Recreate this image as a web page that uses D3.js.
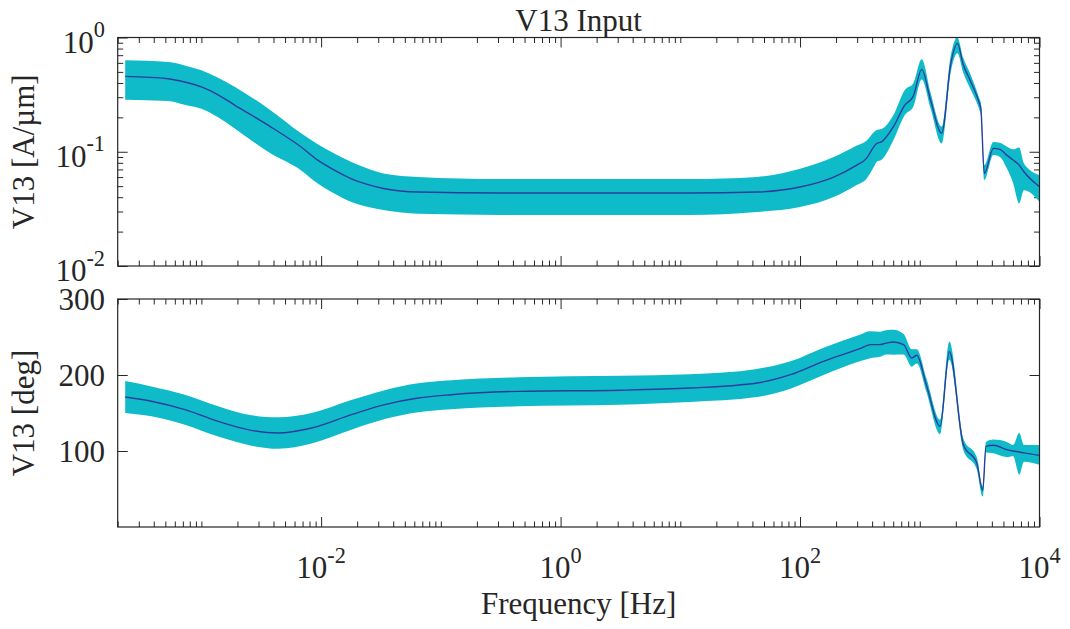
<!DOCTYPE html>
<html lang="en">
<head>
  <meta charset="UTF-8">
  <title></title>
  <style>
    body { margin: 0; background: #fff; }
    svg { display: block; }
  </style>
</head>
<body>
  <script src="https://d3js.org/d3.v7.min.js"></script>
  <script>
    const [width, height] = [1070, 629];

    // magnitude
    const magFreq = [2.31e-4, 5.27e-4, 7.24e-4, 1e-3, 1.38e-3, 1.91e-3, 3.63e-3, 6.81e-3, 9.44e-3, 1.30e-2,
      1.79e-2, 2.47e-2, 3.40e-2, 6.46e-2, 0.316, 3.16, 12.0, 43.7, 100, 191,
      295, 359, 417, 437, 479, 603, 750, 883, 1038, 1230,
      1524, 1816, 2061, 2312, 2630, 3148, 3236, 3459, 4121, 4677,
      5321, 6026, 6761, 7413, 10000];
    const magMid = [0.457, 0.436, 0.408, 0.369, 0.315, 0.255, 0.170, 0.110, 0.084, 0.0687,
      0.058, 0.0515, 0.0474, 0.0444, 0.0436, 0.0436, 0.0435, 0.0444, 0.0491, 0.060,
      0.076, 0.0875, 0.112, 0.118, 0.122, 0.166, 0.256, 0.307, 0.526, 0.284,
      0.145, 0.594, 0.889, 0.574, 0.425, 0.265, 0.24, 0.0646, 0.107, 0.105,
      0.0935, 0.0846, 0.0764, 0.0668, 0.0494];
    const magLow = [0.285, 0.278, 0.258, 0.238, 0.200, 0.159, 0.0994, 0.0687, 0.0524, 0.0429,
      0.0363, 0.0328, 0.0307, 0.0286, 0.028, 0.028, 0.028, 0.0297, 0.0328, 0.0401,
      0.0508, 0.058, 0.075, 0.0818, 0.085, 0.127, 0.21, 0.248, 0.43, 0.24,
      0.118, 0.5, 0.727, 0.49, 0.359, 0.232, 0.21, 0.0565, 0.0936, 0.09,
      0.072, 0.053, 0.0353, 0.046, 0.0365];
    const magHigh = [0.631, 0.61, 0.57, 0.516, 0.445, 0.369, 0.238, 0.145, 0.116, 0.096,
      0.0813, 0.071, 0.0642, 0.0602, 0.0578, 0.0578, 0.0578, 0.0602, 0.071, 0.0899,
      0.113, 0.125, 0.15, 0.155, 0.158, 0.21, 0.347, 0.398, 0.644, 0.33,
      0.166, 0.7, 1.0, 0.66, 0.486, 0.293, 0.27, 0.0765, 0.122, 0.12,
      0.111, 0.105, 0.109, 0.079, 0.0625];

    // phase
    const phaseFreq = [2.31e-4, 3.83e-4, 7.28e-4, 1.38e-3, 2.62e-3, 4.37e-3, 8.32e-3, 1.79e-2, 3.40e-2, 6.46e-2,
      0.122, 0.442, 3.16, 12.0, 43.7, 83.2, 157, 316, 385, 466,
      525, 603, 733, 857, 944, 1135, 1479, 1766, 2312, 2992,
      3357, 3573, 4121, 5321, 6026, 6776, 7413, 10000];
    const phaseMid = [171, 165.4, 154.4, 139, 127.2, 123.7, 130.3, 147.8, 161, 169.7,
      174.1, 178.5, 180, 182.9, 189.5, 200.4, 218, 234.6, 239.9, 240,
      242, 243.4, 240, 222.4, 225.9, 187, 132.5, 231, 108.3, 84.2,
      47.8, 106, 107.5, 101.8, 100, 98.7, 97.5, 94.3];
    const phaseLow = [150, 145.6, 134.6, 119, 107, 103, 110, 128, 142, 151,
      155, 158.8, 161, 164.5, 171, 182, 200, 218, 222, 224,
      227, 226.7, 227, 211, 215, 178, 122, 220, 101, 76,
      40, 98, 97, 92, 93, 68.8, 86, 82];
    const phaseHigh = [192, 185, 174, 159, 147, 144.3, 150, 167, 180, 189,
      193, 197, 199, 201, 208, 218, 236, 253, 257.5, 257,
      259, 259.6, 254, 234, 234, 196, 141, 244, 116, 92,
      54, 112, 115, 112, 108, 123.7, 108, 108];

    const xLabelTicks = [1e-2, 1, 1e2, 1e4];
    const magTicks = [1e-2, 1e-1, 1];
    const phaseTicks = [100, 200, 300];

    const left = 117.7, right = 1039.5;
    const top1 = 37.5, bot1 = 266;
    const top2 = 299, bot2 = 527;
    const ink = "#262626";
    const bandColor = "#10bbc9";
    const lineColor = "#2b3e9c";
    const fs = 31;

    const x = d3.scaleLog().domain([2e-4, 1e4]).range([left, right]);
    const yMag = d3.scaleLog().domain([1e-2, 1]).range([bot1, top1]);
    const yPh = d3.scaleLinear().domain([0, 300]).range([bot2, top2]);

    const isPow = (v) => Math.abs(Math.log10(v) - Math.round(Math.log10(v))) < 1e-9;
    const isLabelled = (v) => xLabelTicks.some((t) => Math.abs(Math.log10(t) - Math.log10(v)) < 1e-9);
    const xMinor = x.ticks().filter((v) => !isLabelled(v));
    const magMinor = yMag.ticks().filter((v) => !isPow(v));

    const svg = d3.select(document.body)
      .append("svg")
      .attr("width", width)
      .attr("height", height)
      .attr("viewBox", [0, 0, width, height])
      .attr("font-family", "'Liberation Serif', 'Times New Roman', serif")
      .attr("font-size", fs)
      .attr("fill", ink);

    const ticks = (axis, values, len, transform) =>
      svg.append("g")
        .attr("transform", transform)
        .attr("color", ink)
        .call(axis.tickValues(values).tickSize(-len).tickFormat(""))
        .call((g) => g.select(".domain").remove());

    function panel(y, top, bottom, yMajor, yMinor) {
      ticks(d3.axisBottom(x), xMinor, 5.5, `translate(0,${bottom})`);
      ticks(d3.axisBottom(x), xLabelTicks, 10, `translate(0,${bottom})`);
      ticks(d3.axisTop(x), xMinor, 5.5, `translate(0,${top})`);
      ticks(d3.axisTop(x), xLabelTicks, 10, `translate(0,${top})`);
      ticks(d3.axisLeft(y), yMinor, 5.5, `translate(${left},0)`);
      ticks(d3.axisLeft(y), yMajor, 10, `translate(${left},0)`);
      ticks(d3.axisRight(y), yMinor, 5.5, `translate(${right},0)`);
      ticks(d3.axisRight(y), yMajor, 10, `translate(${right},0)`);
    }

    function series(y, id, freq, mid, low, high) {
      const rows = freq.map((f, i) => ({ f, mid: mid[i], low: low[i], high: high[i] }));
      svg.append("clipPath").attr("id", id)
        .append("rect")
        .attr("x", x.range()[0]).attr("y", y.range()[1])
        .attr("width", x.range()[1] - x.range()[0])
        .attr("height", y.range()[0] - y.range()[1]);
      const g = svg.append("g").attr("clip-path", `url(#${id})`);
      g.append("path")
        .datum(rows)
        .attr("fill", bandColor)
        .attr("d", d3.area().curve(d3.curveMonotoneX)
          .x((d) => x(d.f)).y0((d) => y(d.low)).y1((d) => y(d.high)));
      g.append("path")
        .datum(rows)
        .attr("fill", "none")
        .attr("stroke", lineColor)
        .attr("stroke-width", 1.4)
        .attr("d", d3.line().curve(d3.curveMonotoneX)
          .x((d) => x(d.f)).y((d) => y(d.mid)));
    }

    function frame(top, bottom) {
      svg.append("rect")
        .attr("x", left).attr("y", top)
        .attr("width", right - left).attr("height", bottom - top)
        .attr("fill", "none").attr("stroke", ink).attr("stroke-width", 1.2);
    }

    function powLabel(g, v) {
      const e = Math.round(Math.log10(v));
      g.append("tspan").text("10");
      g.append("tspan").attr("font-size", fs * 0.72).attr("dy", -fs * 0.5).text(e);
    }

    panel(yMag, top1, bot1, magTicks, magMinor);
    panel(yPh, top2, bot2, phaseTicks, []);
    series(yMag, "clip-mag", magFreq, magMid, magLow, magHigh);
    series(yPh, "clip-ph", phaseFreq, phaseMid, phaseLow, phaseHigh);
    frame(top1, bot1);
    frame(top2, bot2);

    // y tick labels
    svg.append("g").selectAll("text")
      .data(magTicks)
      .join("text")
      .attr("x", 105)
      .attr("y", (d) => yMag(d) + 15)
      .attr("text-anchor", "end")
      .each(function (d) { powLabel(d3.select(this), d); });

    svg.append("g").selectAll("text")
      .data(phaseTicks)
      .join("text")
      .attr("x", 105)
      .attr("y", (d) => yPh(d) + 10.5)
      .attr("text-anchor", "end")
      .text((d) => d);

    // x tick labels
    svg.append("g").selectAll("text")
      .data(xLabelTicks)
      .join("text")
      .attr("x", (d) => x(d))
      .attr("y", bot2 + 51)
      .attr("text-anchor", "middle")
      .each(function (d) { powLabel(d3.select(this), d); });

    svg.append("text")
      .attr("x", (left + right) / 2)
      .attr("y", 30.5)
      .attr("text-anchor", "middle")
      .text("V13 Input");

    svg.append("text")
      .attr("x", (left + right) / 2)
      .attr("y", 614)
      .attr("text-anchor", "middle")
      .text("Frequency [Hz]");

    svg.append("text")
      .attr("transform", `translate(34,${(top1 + bot1) / 2}) rotate(-90)`)
      .attr("text-anchor", "middle")
      .text("V13 [A/\u00b5m]");

    svg.append("text")
      .attr("transform", `translate(34,${(top2 + bot2) / 2}) rotate(-90)`)
      .attr("text-anchor", "middle")
      .text("V13 [deg]");
  </script>
</body>
</html>
